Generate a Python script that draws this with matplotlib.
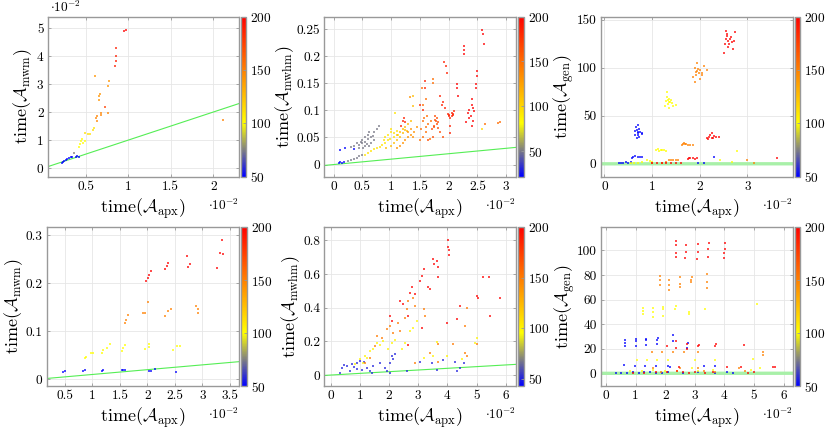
import numpy as np
import matplotlib
matplotlib.use('Agg')
import matplotlib.pyplot as plt
from matplotlib.colors import LinearSegmentedColormap, Normalize
from matplotlib.ticker import FuncFormatter
import matplotlib.cm as cm

plt.rcParams['font.family'] = 'serif'
plt.rcParams['font.serif'] = ['cmr10']
plt.rcParams['mathtext.fontset'] = 'cm'
plt.rcParams['axes.formatter.use_mathtext'] = True

# ---- data (x in units of 1e-2), grouped by colour value ----
# top-left: time(A_mwm), y in 1e-2
p1_c = [50, 75, 100, 112, 148, 175, 142, 188, 200, 150]
p1_x = [[0.22, 0.23, 0.24, 0.26, 0.28, 0.30, 0.32, 0.34, 0.38, 0.40, 0.42],
        [0.36],
        [0.42, 0.43, 0.44, 0.45, 0.47, 0.49],
        [0.49, 0.52, 0.55, 0.58, 0.60],
        [0.62, 0.63, 0.63, 0.68, 0.68, 0.76],
        [0.73],
        [0.65, 0.66, 0.67, 0.61, 0.76, 0.77],
        [0.84, 0.85, 0.86, 0.86],
        [0.95, 0.97],
        [2.11]]
p1_y = [[0.18, 0.22, 0.26, 0.30, 0.33, 0.35, 0.38, 0.38, 0.40, 0.42, 0.40],
        [0.54],
        [0.77, 0.86, 0.95, 1.04, 0.89, 0.95],
        [1.25, 1.23, 1.21, 1.37, 1.43],
        [1.79, 1.67, 1.85, 1.90, 1.96, 1.96],
        [2.18],
        [2.44, 2.56, 2.64, 3.27, 2.94, 3.10],
        [3.63, 3.81, 3.99, 4.29],
        [4.88, 4.94],
        [1.70]]

# top-middle: time(A_mwhm)
p2_c = [22, 50, 95, 112, 132, 185, 150, 165, 185, 200, 150, 100]
p2_x = [[0.10, 0.12, 0.15, 0.18, 0.12, 0.20, 0.35],
        [0.25, 0.30, 0.35, 0.40, 0.45, 0.50, 0.30, 0.35, 0.40, 0.45, 0.50, 0.50, 0.55, 0.55, 0.60,
         0.60, 0.65, 0.62, 0.70, 0.75, 0.79, 0.45, 0.55, 0.65, 0.70, 0.58, 0.52, 0.48, 0.68, 0.62],
        [0.55, 0.60, 0.65, 0.70, 0.75, 0.80, 0.85, 0.90, 0.90, 0.95, 1.00, 1.00, 1.05, 1.05, 0.95,
         1.06, 0.88, 0.98, 1.10, 1.12],
        [0.92, 1.00, 1.05, 1.10, 1.10, 1.15, 1.15, 1.20, 1.25, 1.25, 1.30, 1.35, 1.38, 1.38, 1.20, 1.28],
        [1.10, 1.15, 1.20, 1.25, 1.30, 1.35, 1.40, 1.35, 1.45, 1.30, 1.38, 1.32],
        [1.18, 1.20, 1.22, 1.25],
        [1.50, 1.55, 1.60, 1.60, 1.65, 1.70, 1.55, 1.53, 1.55, 1.60, 1.62, 1.68, 1.73, 1.73, 1.52, 1.58],
        [1.71, 1.75, 1.80, 1.80, 1.76, 1.78, 1.82, 1.74, 1.72, 1.65, 1.82, 1.77, 1.85, 1.90],
        [1.50, 1.55, 1.59, 1.59, 1.85, 1.90, 1.95, 1.97, 2.00, 2.05, 2.10, 2.05, 2.00, 2.03, 2.03,
         1.99, 2.08, 1.88, 1.93, 2.02, 2.07, 1.92],
        [2.26, 2.27, 2.26, 2.50, 2.50, 2.48, 2.48, 2.35, 2.40, 2.43, 2.38, 2.42, 2.40, 2.33, 2.58,
         2.59, 2.62, 2.40, 2.36, 2.44, 2.30, 2.14, 2.17, 2.14],
        [2.63, 2.85, 2.90],
        [2.58]]
p2_y = [[0.003, 0.004, 0.003, 0.004, 0.027, 0.030, 0.029],
        [0.006, 0.008, 0.010, 0.012, 0.015, 0.017, 0.032, 0.035, 0.040, 0.036, 0.040, 0.045, 0.042, 0.050, 0.048,
         0.055, 0.050, 0.060, 0.060, 0.066, 0.071, 0.030, 0.035, 0.040, 0.045, 0.038, 0.030, 0.042, 0.052, 0.035],
        [0.018, 0.022, 0.025, 0.028, 0.030, 0.033, 0.036, 0.040, 0.050, 0.055, 0.060, 0.065, 0.058, 0.050, 0.045,
         0.096, 0.045, 0.048, 0.062, 0.054],
        [0.030, 0.035, 0.040, 0.045, 0.055, 0.060, 0.050, 0.065, 0.070, 0.063, 0.075, 0.080, 0.108, 0.127, 0.058, 0.062],
        [0.030, 0.035, 0.040, 0.045, 0.050, 0.055, 0.060, 0.065, 0.070, 0.060, 0.050, 0.125],
        [0.072, 0.080, 0.086, 0.078],
        [0.045, 0.050, 0.060, 0.070, 0.075, 0.080, 0.080, 0.142, 0.110, 0.120, 0.090, 0.047, 0.157, 0.150, 0.065, 0.085],
        [0.065, 0.070, 0.075, 0.085, 0.089, 0.080, 0.078, 0.072, 0.050, 0.045, 0.068, 0.083, 0.060, 0.050],
        [0.110, 0.100, 0.154, 0.141, 0.126, 0.115, 0.182, 0.169, 0.090, 0.095, 0.098, 0.089, 0.092, 0.071, 0.058,
         0.094, 0.091, 0.110, 0.105, 0.085, 0.093, 0.190],
        [0.219, 0.212, 0.204, 0.173, 0.163, 0.149, 0.141, 0.100, 0.110, 0.105, 0.090, 0.080, 0.072, 0.095, 0.249,
         0.241, 0.222, 0.120, 0.085, 0.098, 0.078, 0.149, 0.126, 0.141],
        [0.075, 0.076, 0.079],
        [0.065]]

# top-right: time(A_gen)
p3_c = [50, 50, 100, 100, 100, 150, 150, 150, 200, 200, 200, 200]
p3_x = [[0.65, 0.68, 0.70, 0.72, 0.66, 0.70, 0.75, 0.80, 0.68, 0.73, 0.70, 0.64, 0.78, 0.71],
        [0.30, 0.40, 0.50, 0.55, 0.60, 0.65, 0.70, 0.75, 0.80, 0.58, 0.45, 0.35, 2.29, 1.97, 2.10],
        [0.55, 0.70, 0.80, 0.90, 0.95, 1.00, 0.62, 2.43, 2.67],
        [1.08, 1.12, 1.15, 1.20, 1.25, 1.30, 1.18, 2.78],
        [1.30, 1.33, 1.35, 1.32, 1.28, 1.38, 1.40, 1.45, 1.35, 1.31, 1.42, 1.34, 1.36, 1.50],
        [1.00, 1.20, 1.35, 1.45, 1.50, 1.55, 1.30, 1.40, 3.00, 3.13],
        [1.62, 1.65, 1.70, 1.75, 1.80, 1.85, 1.68, 1.72],
        [1.95, 1.98, 2.00, 1.90, 1.92, 2.05, 2.10, 1.95, 1.90, 2.00, 2.05, 1.97, 1.93, 1.85, 2.15],
        [1.00, 1.10, 1.20, 1.40, 1.50, 1.60, 1.30],
        [1.75, 1.80, 1.85, 1.90, 1.95, 1.78, 3.62],
        [2.15, 2.20, 2.25, 2.30, 2.35, 2.22, 2.25, 2.40, 2.18, 2.28],
        [2.55, 2.60, 2.62, 2.58, 2.65, 2.50, 2.70, 2.75, 2.55, 2.60, 2.68, 2.52, 2.63, 2.57, 2.72]]
p3_y = [[30, 35, 32, 28, 38, 40, 33, 32, 27, 36, 30, 34, 31, 33],
        [0.5, 1.0, 1.0, 2.0, 7.5, 8.0, 7.0, 7.5, 7.5, 6.5, 1.5, 0.8, 7.0, 0.7, 0.7],
        [0.5, 1.0, 2.0, 3.5, 2.5, 2.0, 1.2, 3.5, 2.4],
        [14, 15, 13.5, 14, 14, 13.8, 14.5, 13],
        [65, 62, 68, 70, 60, 64, 66, 60, 58, 75, 63, 66, 64, 61],
        [1.0, 1.0, 4.0, 4.5, 4.0, 4.5, 2.0, 4.0, 4.0, 1.0],
        [20, 21, 20.5, 19.5, 20, 19.5, 22, 21],
        [97, 95, 98, 100, 93, 95, 102, 105, 85, 88, 92, 99, 96, 90, 98],
        [0.5, 0.5, 0.8, 1.0, 1.0, 1.0, 0.6],
        [5.5, 6.0, 6.0, 5.5, 6.0, 5.8, 6.0],
        [27, 28, 27, 29, 28, 30, 32, 28, 26, 27],
        [130, 128, 125, 135, 132, 115, 120, 137, 138, 122, 127, 125, 130, 133, 128]]

# bottom-left: time(A_mwm)
p4_c = [50, 100, 150, 200]
p4_x = [[0.47, 0.50, 0.83, 0.86, 1.17, 1.20, 1.53, 1.56, 1.59, 2.03, 2.07, 2.14, 2.52],
        [0.86, 0.89, 0.98, 1.02, 1.17, 1.20, 1.26, 1.32, 1.53, 1.55, 1.59, 1.95, 2.02, 2.03, 2.46, 2.53, 2.59],
        [1.59, 1.62, 1.65, 1.92, 1.95, 2.01, 2.32, 2.38, 2.42, 2.89, 2.92, 2.92],
        [1.98, 2.01, 2.02, 2.07, 2.32, 2.35, 2.37, 2.72, 2.74, 2.77, 3.26, 3.32, 3.37, 3.35]]
p4_y = [[0.015, 0.017, 0.017, 0.019, 0.017, 0.019, 0.019, 0.019, 0.019, 0.018, 0.018, 0.022, 0.015],
        [0.045, 0.046, 0.054, 0.054, 0.055, 0.061, 0.065, 0.073, 0.059, 0.066, 0.071, 0.062, 0.067, 0.073,
         0.061, 0.069, 0.069],
        [0.118, 0.123, 0.134, 0.139, 0.139, 0.161, 0.132, 0.142, 0.147, 0.152, 0.146, 0.139],
        [0.204, 0.211, 0.218, 0.225, 0.229, 0.236, 0.243, 0.256, 0.234, 0.239, 0.232, 0.262, 0.260, 0.290]]

# bottom-middle: time(A_mwhm)
p5_c = [50, 100, 150, 200]
p5_x = [[0.32, 0.38, 0.55, 0.72, 0.89, 1.00, 0.66, 0.89, 1.06, 1.23, 1.35, 1.46, 1.69, 1.86, 1.92, 2.03, 2.15,
         2.09, 2.21, 1.41, 2.03, 3.06, 3.46, 3.63, 3.86, 4.26, 4.43, 4.57, 4.32, 2.60, 0.45, 0.80, 1.15],
        [0.83, 1.00, 1.18, 1.35, 1.46, 1.58, 1.69, 1.80, 1.98, 2.09, 2.21, 2.43, 2.55, 2.72, 2.83, 2.95, 3.18,
         3.52, 3.63, 3.98, 4.49, 4.95, 5.00, 1.10, 1.25],
        [1.18, 1.35, 1.52, 1.58, 1.75, 1.92, 2.03, 2.15, 2.32, 2.38, 2.55, 2.60, 2.66, 2.83, 2.89, 3.18, 3.24,
         2.89, 3.41, 3.69, 4.20, 4.60, 4.66, 4.66, 5.00, 4.60, 3.69],
        [2.03, 2.09, 2.38, 2.49, 2.66, 2.72, 2.78, 2.89, 3.06, 3.12, 3.18, 3.35, 3.41, 3.52, 3.54, 3.63, 3.69,
         3.69, 4.03, 4.03, 4.06, 4.07, 3.98, 4.43, 4.32, 5.23, 5.41, 5.00, 5.06, 5.46, 5.81, 3.12, 2.66]]
p5_y = [[0.014, 0.040, 0.053, 0.063, 0.073, 0.083, 0.024, 0.034, 0.030, 0.044, 0.024, 0.053, 0.073, 0.044,
         0.024, 0.073, 0.093, 0.113, 0.123, 0.014, 0.014, 0.079, 0.073, 0.030, 0.089, 0.079, 0.044, 0.073,
         0.024, 0.024, 0.060, 0.050, 0.080],
        [0.063, 0.093, 0.113, 0.143, 0.152, 0.190, 0.180, 0.200, 0.152, 0.190, 0.210, 0.152, 0.190, 0.260,
         0.280, 0.320, 0.100, 0.113, 0.196, 0.113, 0.093, 0.190, 0.218, 0.070, 0.100],
        [0.073, 0.100, 0.172, 0.232, 0.220, 0.271, 0.291, 0.250, 0.311, 0.260, 0.340, 0.390, 0.440, 0.460,
         0.410, 0.390, 0.350, 0.073, 0.133, 0.182, 0.182, 0.291, 0.400, 0.113, 0.182, 0.133, 0.079],
        [0.350, 0.320, 0.440, 0.420, 0.350, 0.490, 0.520, 0.480, 0.560, 0.590, 0.630, 0.520, 0.510, 0.690,
         0.660, 0.680, 0.640, 0.580, 0.800, 0.760, 0.740, 0.710, 0.310, 0.410, 0.330, 0.580, 0.580, 0.470,
         0.460, 0.350, 0.460, 0.280, 0.180]]

# bottom-right: time(A_gen)
p6_c = [50, 100, 150, 200]
p6_x = [[0.65, 0.65, 0.65, 1.00, 1.00, 1.00, 1.35, 1.35, 1.35, 1.72, 1.72, 1.75, 2.25, 2.27, 2.75, 2.77,
         0.60, 0.99, 1.32, 1.69, 2.10, 2.15, 3.30, 3.70,
         0.35, 0.50, 0.70, 0.90, 1.10, 1.30, 1.50, 1.70, 1.90, 2.10, 2.60, 3.10, 3.70, 4.10, 4.30],
        [1.25, 1.25, 1.25, 1.58, 1.58, 1.58, 1.92, 1.92, 1.92, 2.33, 2.35, 2.79, 2.79, 3.35, 5.10,
         1.05, 1.38, 1.72, 2.08, 3.00, 3.68, 4.98,
         0.80, 1.20, 1.60, 2.00, 2.40, 3.10, 3.60, 4.90, 5.20, 2.90],
        [1.84, 1.84, 1.84, 2.12, 2.12, 2.12, 2.49, 2.49, 2.50, 2.88, 2.88, 2.90, 3.40, 3.40, 3.42,
         1.55, 1.88, 2.25, 2.62, 3.10, 5.32, 5.30,
         1.60, 1.85, 2.50, 3.10, 3.30, 4.50, 3.70, 4.70],
        [2.35, 2.36, 2.37, 2.38, 2.68, 2.70, 2.72, 3.08, 3.10, 3.12, 3.44, 3.46, 3.48, 3.98, 4.00, 4.02, 4.03,
         2.05, 2.37, 2.37, 2.73, 2.75, 3.12, 3.15, 3.68, 3.72, 4.65,
         0.90, 1.30, 1.70, 2.05, 2.40, 2.45, 2.60, 2.80, 3.00, 3.35, 3.60, 4.10, 4.55, 5.65, 5.70, 4.80, 5.00]]
p6_y = [[22, 25, 27, 22, 26, 28, 23, 27, 28, 24, 27, 29, 26, 31, 21, 25,
         6.5, 6, 6, 6, 6, 5, 6, 6,
         0.5, 0.5, 0.5, 1, 0.5, 1, 0.8, 0.5, 0.5, 1, 0.5, 0.8, 0.5, 1, 0.5],
        [48, 51, 53, 46, 50, 53, 47, 52, 54, 52, 55, 48, 50, 52.5, 56.6,
         11, 11, 11, 11, 11, 11, 11.7,
         2, 2, 3, 2, 2, 2, 3, 3, 4, 4],
        [72, 76, 79, 68, 72, 76, 70, 73, 78, 74, 76, 78, 69, 74, 81,
         17, 17, 17, 17, 17, 17.6, 15,
         4, 1, 4, 4, 2, 4, 1, 2],
        [95, 98, 104, 108, 94, 99, 104, 93, 99, 105, 95, 101, 106, 94, 98, 101, 106,
         22, 21, 26, 20, 24, 22, 23, 22, 24, 23,
         0.5, 0.5, 1, 1, 1.5, 5, 1, 0.5, 1, 0.5, 1, 5, 5, 5, 5.5, 0.5, 0.8]]

cmap = LinearSegmentedColormap.from_list(
    'bgyor', [(0, (0, 0, 1)), (1/6, (0.5, 0.5, 0.5)), (1/3, (1, 1, 0)),
              (2/3, (1, 0.5, 0)), (1, (1, 0, 0))])

W, H = 830, 432
fig = plt.figure(figsize=(W / 100, H / 100), dpi=100)
FS = 9.6
LFS = 13
fmt = FuncFormatter(lambda v, p: '%g' % round(v, 6))
spine_col = '#999999'


def panel(box, xs, ys, cs, vmin, xlim, ylim, xticks, yticks, sub, slope, ylab_x,
          line_w=0.8, line_col='#55ee55', y_off=False):
    l, t, r, b = box
    ax = fig.add_axes([l / W, 1 - b / H, (r - l) / W, (b - t) / H])
    cax = fig.add_axes([(r + 2) / W, 1 - b / H, 5.5 / W, (b - t) / H])
    norm = Normalize(vmin=vmin, vmax=200)

    xl = np.array(xlim)
    ax.plot(xl, xl * slope, color=line_col, lw=line_w, zorder=2)
    for gx, gy, c in zip(xs, ys, cs):
        ax.scatter(gx, gy, s=1.6, marker='s', color=cmap(norm(c)), linewidths=0,
                   alpha=0.7, zorder=3)

    ax.set_xlim(xlim)
    ax.set_ylim(ylim)
    ax.set_xticks(xticks)
    ax.set_yticks(yticks)
    ax.xaxis.set_major_formatter(fmt)
    ax.yaxis.set_major_formatter(fmt)
    ax.grid(True, color='#e6e6e6', lw=0.6, zorder=0)
    ax.set_axisbelow(True)
    ax.tick_params(direction='in', length=2.5, width=0.6, color=spine_col,
                   labelsize=FS, top=True, right=True, pad=3)
    for s in ax.spines.values():
        s.set_color(spine_col)
        s.set_linewidth(1.0)

    ax.set_xlabel(r'time($\mathcal{A}_{\rm apx}$)', fontsize=LFS)
    ax.xaxis.set_label_coords(0.5, -0.12)
    ax.set_ylabel(r'time($\mathcal{A}_{\rm %s}$)' % sub, fontsize=LFS)
    ax.yaxis.set_label_coords(ylab_x, 0.5)

    ax.text(1.0, -0.18, r'$\cdot 10^{-2}$', transform=ax.transAxes,
            ha='right', va='center', fontsize=FS)
    if y_off:
        ax.text(0.012, 1.012, r'$\cdot 10^{-2}$', transform=ax.transAxes,
                ha='left', va='bottom', fontsize=FS)

    cb = fig.colorbar(cm.ScalarMappable(norm=norm, cmap=cmap), cax=cax)
    cb.set_ticks([50, 100, 150, 200])
    cb.outline.set_edgecolor(spine_col)
    cb.outline.set_linewidth(1.0)
    cax.tick_params(direction='in', length=2, width=0.6, color=spine_col,
                    labelsize=FS, pad=3)
    return ax


top = (16.5, 176.5)
bot = (227, 386)
panel((47.7, top[0], 238.7, top[1]), p1_x, p1_y, p1_c, 50, (0.05, 2.30), (-0.30, 5.41),
      [0.5, 1, 1.5, 2], [0, 1, 2, 3, 4, 5], 'mwm', 1.0, -0.07, y_off=True)
panel((324.3, top[0], 516, top[1]), p2_x, p2_y, p2_c, 22, (-0.16, 3.17), (-0.022, 0.273),
      [0, 0.5, 1, 1.5, 2, 2.5, 3], [0, 0.05, 0.1, 0.15, 0.2, 0.25], 'mwhm', 0.01, -0.15)
panel((600.7, top[0], 792.7, top[1]), p3_x, p3_y, p3_c, 50, (-0.076, 3.95), (-13.2, 153.4),
      [0, 1, 2, 3], [0, 50, 100, 150], 'gen', 0.01, -0.13, line_w=2.4, line_col='#a8f0a8')
panel((46.7, bot[0], 239.3, bot[1]), p4_x, p4_y, p4_c, 50, (0.17, 3.67), (-0.014, 0.317),
      [0.5, 1, 1.5, 2, 2.5, 3, 3.5], [0, 0.1, 0.2, 0.3], 'mwm', 0.01, -0.115)
panel((324.3, bot[0], 516, bot[1]), p5_x, p5_y, p5_c, 43, (-0.22, 6.35), (-0.065, 0.879),
      [0, 1, 2, 3, 4, 5, 6], [0, 0.2, 0.4, 0.6, 0.8], 'mwhm', 0.01, -0.115)
panel((600.7, bot[0], 792.7, bot[1]), p6_x, p6_y, p6_c, 50, (-0.18, 6.31), (-10.3, 119),
      [0, 1, 2, 3, 4, 5, 6], [0, 20, 40, 60, 80, 100], 'gen', 0.01, -0.125,
      line_w=2.4, line_col='#a8f0a8')

fig.savefig('out.png', dpi=100)
